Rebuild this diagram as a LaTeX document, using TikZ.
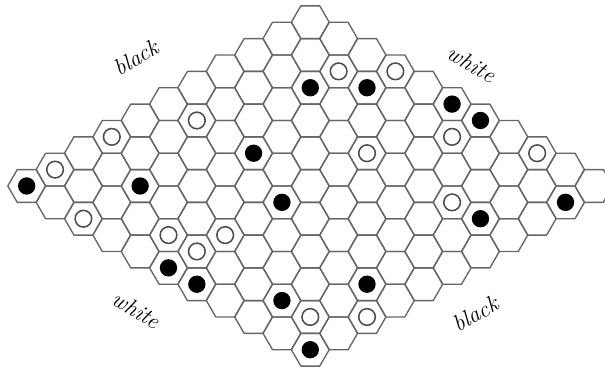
\documentclass[tikz,border=0pt]{standalone}
\usepackage{tikz}

\tikzset{
  cell/.style={draw=black!60, line width=0.7pt, line join=round},
  blackstone/.style={circle, fill=black, inner sep=0pt, minimum size=0.318cm},
  whitestone/.style={circle, draw=black!70, line width=0.8pt, fill=white, inner sep=0pt, minimum size=0.305cm},
  sidelabel/.style={font=\fontsize{12}{14}\selectfont\itshape, inner sep=0pt}
}

\begin{document}
\begin{tikzpicture}[x=0.6cm, y=0.6cm]
\useasboundingbox (-0.815,-5.557) rectangle (17.66,5.679);

% board cells
\foreach \i in {0,...,10}
  \foreach \j in {0,...,10}{
    \coordinate (c-\i-\j) at ({0.866025*(\i+\j)},{0.5*(\i-\j)});
    \draw[cell] (c-\i-\j) ++(0:0.57735) -- ++(120:0.57735) -- ++(180:0.57735)
      -- ++(240:0.57735) -- ++(300:0.57735) -- ++(0:0.57735) -- cycle;
  }

% stones
\foreach \i/\j in {0/0, 2/2, 5/3, 8/2, 9/3, 10/5, 10/6, 4/5, 7/9, 9/10, 0/5, 0/6, 1/8, 3/9, 0/10}
  \node[blackstone] (b-\i-\j) at (c-\i-\j) {};
\foreach \i/\j in {1/0, 3/0, 5/1, 0/2, 9/2, 10/3, 9/6, 7/5, 10/8, 7/8, 1/4, 2/5, 1/5, 1/9, 2/10}
  \node[whitestone] (w-\i-\j) at (c-\i-\j) {};

% edge labels
\node[sidelabel, rotate=30] (black-nw) at (3.34,3.92) {black};
\node[sidelabel, rotate=-30] (white-ne) at (13.6,3.725) {white};
\node[sidelabel, rotate=-30] (white-sw) at (3.35,-3.786) {white};
\node[sidelabel, rotate=30] (black-se) at (13.7,-3.91) {black};

\end{tikzpicture}
\end{document}
